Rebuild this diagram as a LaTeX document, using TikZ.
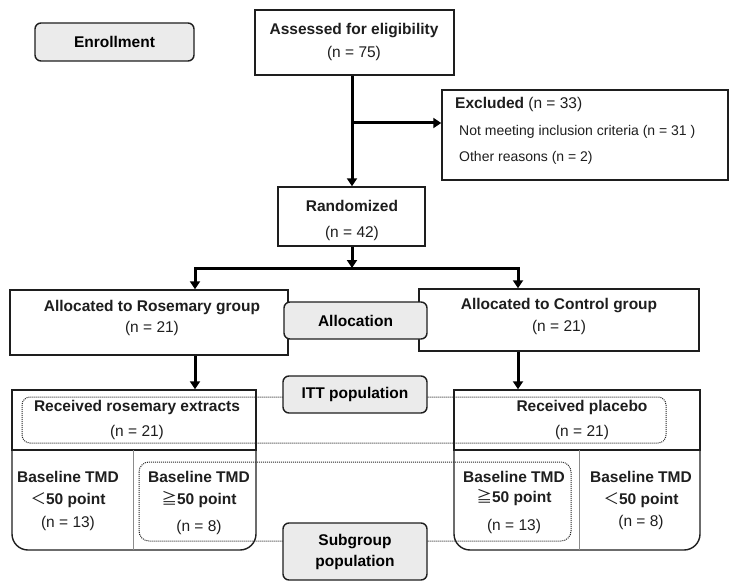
\documentclass[tikz,border=0pt]{standalone}
\usepackage{fontspec}
\setmainfont{Liberation Sans}
\newfontfamily\cjkf{Noto Sans CJK SC}
\usetikzlibrary{arrows.meta}
\definecolor{boxgray}{HTML}{EBEBEB}
\definecolor{edge}{HTML}{1E1E1E}
\definecolor{divgray}{HTML}{8C8C8C}
\begin{document}
\begin{tikzpicture}[x=1pt,y=-1pt,
  box/.style={draw=edge, line width=1.4pt, inner sep=0pt},
  gbox/.style={box, fill=boxgray, rounded corners=6pt, font=\fontsize{15.5}{21}\selectfont\bfseries, align=center},
  txt/.style={align=center, inner sep=0pt, text=edge, font=\fontsize{15.5}{#1}\selectfont},
  ltxt/.style={anchor=base west, inner sep=0pt, text=edge, font=\fontsize{#1}{18}\selectfont},
  arr/.style={draw=black, line width=3pt, -{Triangle[width=10pt,length=8pt]}},
  dotline/.style={draw=black!85, line width=1pt, dash pattern=on 1pt off 1pt},
  divline/.style={draw=divgray, line width=1pt}
]
\useasboundingbox (0,0) rectangle (736,588);
\fill[white] (0,0) rectangle (736,588);

% coordinates for connector columns
\coordinate (cx) at (352,0);
\coordinate (lx) at (195,0);
\coordinate (rx) at (518,0);
\coordinate (br) at (352,123);
\coordinate (jn) at (352,268);

% top boxes
\node[gbox, minimum width=159pt, minimum height=38pt] (enroll) at (114.5,42) {Enrollment};
\node[box, minimum width=199pt, minimum height=65pt] (assess) at (354.5,42.5) {};
\node[txt=23] (assess-t) at (354,41.5) {\textbf{Assessed for eligibility}\\(n = 75)};
\node[box, minimum width=286pt, minimum height=90pt] (excl) at (585,135) {};
\node[ltxt=15.5] (excl-t1) at (455,108.5) {\textbf{Excluded} (n = 33)};
\node[ltxt=14] (excl-t2) at (459,136) {Not meeting inclusion criteria (n = 31 )};
\node[ltxt=14] (excl-t3) at (459,162) {Other reasons (n = 2)};
\node[box, minimum width=147pt, minimum height=59pt] (random) at (351.5,216.5) {};
\node[txt=26] (random-t) at (352,220) {\textbf{Randomized}\\(n = 42)};

% allocation
\node[box, minimum width=278pt, minimum height=65pt] (rosem) at (149,322.5) {};
\node[txt=21] (rosem-t) at (152,317.5) {\textbf{Allocated to Rosemary group}\\(n = 21)};
\node[box, minimum width=280pt, minimum height=62pt] (control) at (559,320) {};
\node[txt=22] (control-t) at (559,316) {\textbf{Allocated to Control group}\\(n = 21)};
\node[gbox, minimum width=143pt, minimum height=37pt] (alloc) at (355.5,320.5) {Allocation};

% big result boxes
\node[box, minimum width=244pt, minimum height=60pt] (ltop) at (134,420) {};
\draw[edge, line width=1.4pt, rounded corners=16pt] (12,450) -- (12,550) -- (256,550) -- (256,450);
\node[box, minimum width=246pt, minimum height=60pt] (rtop) at (577,420) {};
\draw[edge, line width=1.4pt, rounded corners=16pt] (454,450) -- (454,550) -- (700,550) -- (700,450);
\draw[divline] (133,450) -- (133,550);
\draw[divline] (579,450) -- (579,550);

% dotted population outlines
\draw[dotline, rounded corners=8pt] (22,397) rectangle (666,443);
\draw[dotline, rounded corners=10pt] (139,462) rectangle (571,541);

\node[gbox, minimum width=144pt, minimum height=37pt] (itt) at (355,394.5) {ITT population};
\node[gbox, minimum width=144pt, minimum height=57pt] (subg) at (355,551.5) {Subgroup\\population};

% texts in result boxes
\node[txt=25] (ltop-t) at (137,419.5) {\textbf{Received rosemary extracts}\\(n = 21)};
\node[txt=25] (rtop-t) at (582,419.5) {\textbf{Received placebo}\\(n = 21)};
\node[txt=22.5] (ll-t) at (68,500.5) {\textbf{Baseline TMD}\\{\cjkf ＜}\textbf{50 point}\\(n = 13)};
\node[txt=22] (lr-t) at (199,502.5) {\textbf{Baseline TMD}\\{\cjkf ≧}\textbf{50 point}\\[5pt](n = 8)};
\node[txt=20] (rl-t) at (514,502) {\textbf{Baseline TMD}\\{\cjkf ≧}\textbf{50 point}\\[8pt](n = 13)};
\node[txt=22] (rr-t) at (641,500) {\textbf{Baseline TMD}\\{\cjkf ＜}\textbf{50 point}\\(n = 8)};

% connectors
\draw[arr] (assess.south -| cx) -- (random.north -| cx);
\draw[arr] (br) -- (excl.west |- br);
\draw[arr] (random.south -| cx) -- (jn);
\draw[arr] (jn) -| (rosem.north -| lx);
\draw[arr] (jn) -| (control.north -| rx);
\draw[arr] (rosem.south -| lx) -- (ltop.north -| lx);
\draw[arr] (control.south -| rx) -- (rtop.north -| rx);
\end{tikzpicture}
\end{document}
